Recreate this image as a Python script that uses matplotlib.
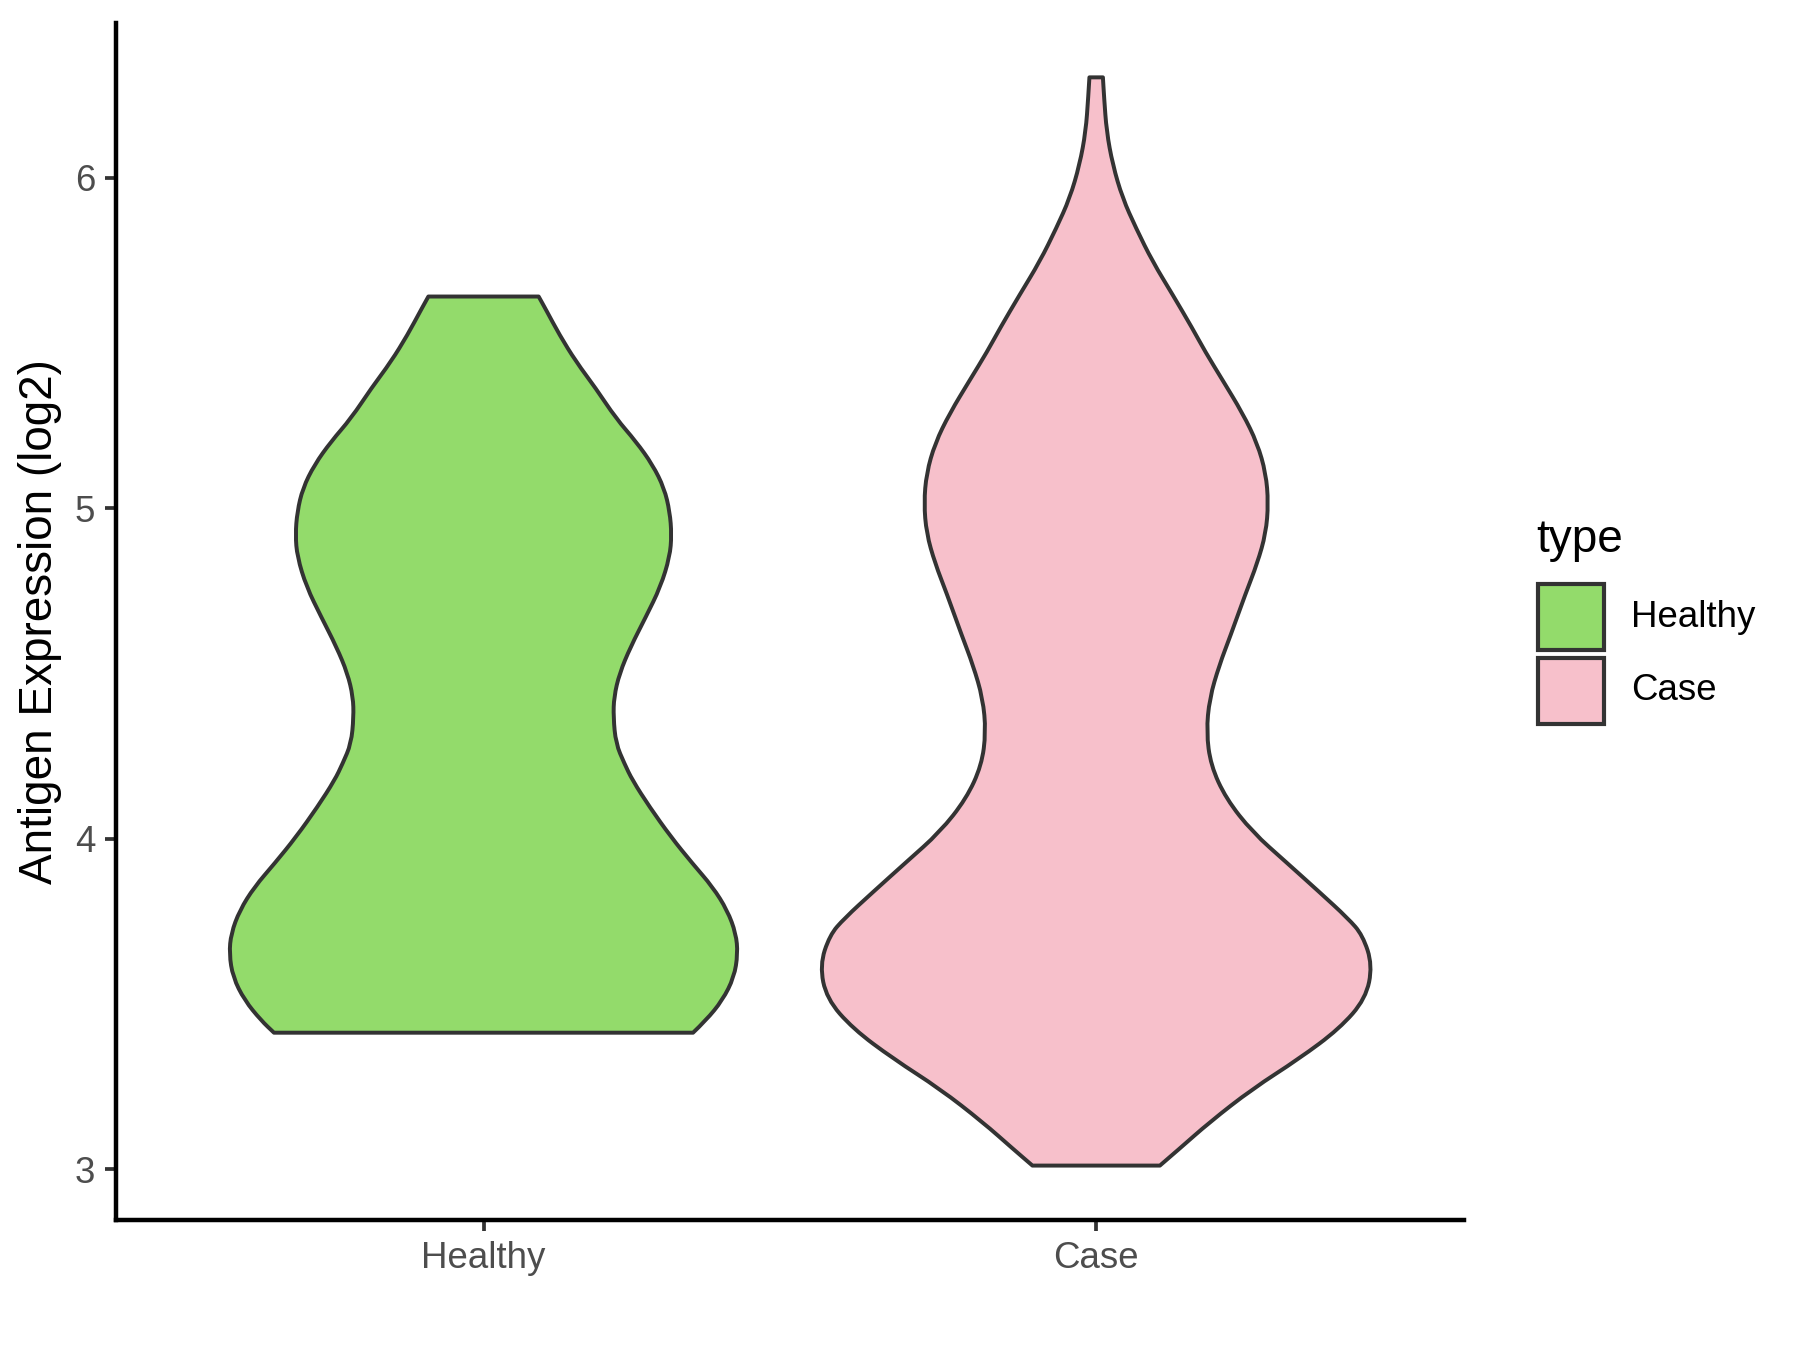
import matplotlib
matplotlib.use("Agg")
import matplotlib.pyplot as plt
from matplotlib.patches import Rectangle, PathPatch
from matplotlib.path import Path

plt.rcParams['font.family'] = ['Liberation Sans', 'DejaVu Sans']

groups = ["Healthy", "Case"]
colors = ["#93DB6B", "#F7C0CB"]

# violin outlines: y value and half width (x units)
healthy_y = [5.640, 5.600, 5.524, 5.443, 5.363, 5.272, 5.201, 5.131, 5.060, 4.989,
             4.919, 4.853, 4.762, 4.671, 4.580, 4.500, 4.429, 4.368, 4.288, 4.227,
             4.177, 4.096, 4.005, 3.925, 3.854, 3.783, 3.713, 3.652, 3.581, 3.511,
             3.450, 3.413]
healthy_w = [0.090, 0.102, 0.124, 0.151, 0.183, 0.216, 0.249, 0.276, 0.295, 0.304,
             0.307, 0.304, 0.289, 0.265, 0.240, 0.222, 0.213, 0.212, 0.216, 0.230,
             0.243, 0.271, 0.306, 0.341, 0.374, 0.398, 0.412, 0.415, 0.409, 0.390,
             0.363, 0.342]

case_y = [6.303, 6.241, 6.140, 6.039, 5.938, 5.847, 5.746, 5.645, 5.544, 5.473,
          5.388, 5.287, 5.196, 5.105, 5.015, 4.924, 4.833, 4.742, 4.613, 4.525,
          4.424, 4.323, 4.222, 4.121, 4.020, 3.929, 3.839, 3.759, 3.708, 3.617,
          3.516, 3.425, 3.334, 3.243, 3.142, 3.062, 3.011]
case_w = [0.011, 0.013, 0.017, 0.027, 0.043, 0.065, 0.092, 0.125, 0.157, 0.178,
          0.206, 0.239, 0.263, 0.277, 0.281, 0.277, 0.263, 0.244, 0.219, 0.201,
          0.185, 0.180, 0.187, 0.212, 0.255, 0.310, 0.364, 0.411, 0.435, 0.451,
          0.440, 0.397, 0.331, 0.255, 0.185, 0.136, 0.104]

profiles = [(healthy_y, healthy_w), (case_y, case_w)]


def smooth_side(pts):
    # quadratic bezier through the read points (points used as control points)
    verts = [pts[0]]
    codes = [Path.LINETO]
    for k in range(1, len(pts) - 1):
        mid = ((pts[k][0] + pts[k + 1][0]) / 2, (pts[k][1] + pts[k + 1][1]) / 2)
        verts += [pts[k], mid]
        codes += [Path.CURVE3, Path.CURVE3]
    verts.append(pts[-1])
    codes.append(Path.LINETO)
    return verts, codes


fig = plt.figure(figsize=(6, 4.5), dpi=300)
ax = fig.add_axes([0.0644, 0.0963, 0.7488, 0.8867])

for i, (ys, ws) in enumerate(profiles):
    pos = i + 1
    left = [(pos - w, y) for y, w in zip(ys, ws)]
    right = [(pos + w, y) for y, w in zip(ys, ws)][::-1]
    lv, lc = smooth_side(left)
    rv, rc = smooth_side(right)
    lc[0] = Path.MOVETO
    verts = lv + rv + [lv[0]]
    codes = lc + rc + [Path.CLOSEPOLY]
    ax.add_patch(PathPatch(Path(verts, codes), facecolor=colors[i], edgecolor="#333333",
                           linewidth=0.95, joinstyle="round", zorder=2))

ymin = min(min(healthy_y), min(case_y))
ymax = max(max(healthy_y), max(case_y))
pad = (ymax - ymin) * 0.05
ax.set_ylim(ymin - pad, ymax + pad)
ax.set_xlim(0.4, 2.6)

ax.set_xticks([1, 2])
ax.set_xticklabels(groups)
ax.set_yticks([3, 4, 5, 6])
ax.tick_params(length=2.75, width=0.9, color="#333333", labelcolor="#4D4D4D",
               labelsize=8.8, pad=2.2)
ax.set_ylabel("Antigen Expression (log2)", fontsize=11, labelpad=3)

for s in ["top", "right"]:
    ax.spines[s].set_visible(False)
for s in ["left", "bottom"]:
    ax.spines[s].set_linewidth(1.07)
    ax.spines[s].set_color("black")

# legend
fig.text(0.8535, 0.600, "type", fontsize=11, ha="left", va="center")
key_x = 0.8545
key_w = 0.0367
key_h = 0.0489
for i, g in enumerate(groups):
    top = 0.5674 - i * 0.0548
    fig.add_artist(Rectangle((key_x, top - key_h), key_w, key_h, transform=fig.transFigure,
                             facecolor=colors[i], edgecolor="#333333", linewidth=1.0))
    fig.text(0.906, top - key_h / 2, g, fontsize=8.8, ha="left", va="center")

fig.savefig("out.png", dpi=300)
